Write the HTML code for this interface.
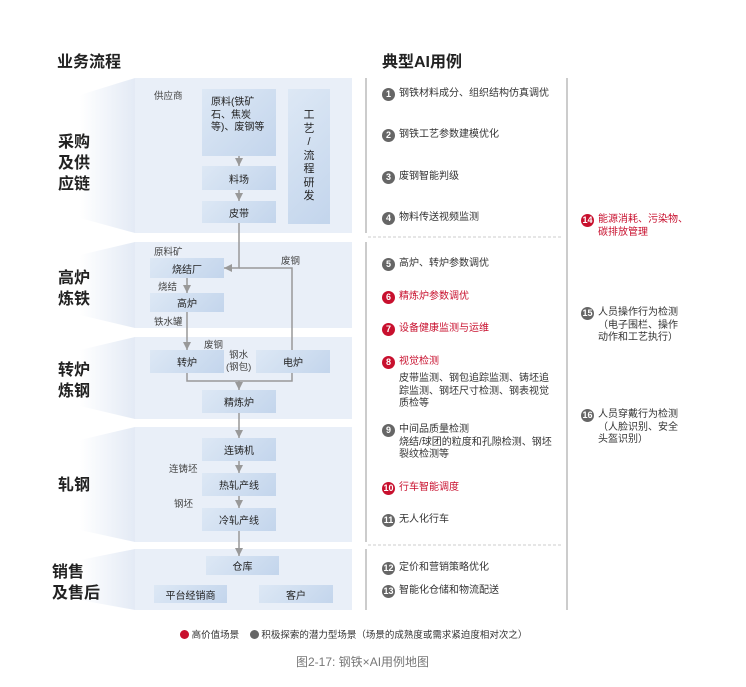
<!DOCTYPE html>
<html><head><meta charset="utf-8"><style>
body{margin:0;width:746px;height:687px;background:#fff;position:relative;font-family:"Liberation Sans","Noto Sans CJK SC",sans-serif;overflow:hidden}
.a{position:absolute}
.box{position:absolute;background:linear-gradient(135deg,#dde8f5,#c3d5ec);color:#222;font-size:10px;display:flex;align-items:center;justify-content:center;text-align:center}
.lab{position:absolute;font-size:16px;font-weight:bold;color:#222;line-height:21px}
.sm{position:absolute;font-size:9.5px;color:#444}
.it{position:absolute;font-size:10px;color:#333;line-height:12.5px}
.it b{position:absolute;left:-17px;top:0;width:13px;height:13px;border-radius:50%;background:#666;color:#fff;font-size:9px;font-weight:bold;text-align:center;line-height:13px}
.r{color:#c8102e}.r b{background:#c8102e}
</style></head><body>
<svg class="a" style="left:0;top:0" width="746" height="687">
<defs><linearGradient id="g" x1="0" x2="1"><stop offset="0" stop-color="#fff"/><stop offset="1" stop-color="#e3eaf5"/></linearGradient>
<marker id="ar" markerUnits="userSpaceOnUse" markerWidth="9" markerHeight="9" refX="8" refY="4.5" orient="auto"><path d="M0,0.5L8,4.5L0,8.5z" fill="#999"/></marker></defs>
<g fill="url(#g)">
<polygon points="80,95 135,78 135,233 80,218"/>
<polygon points="80,255 135,242 135,328 80,315"/>
<polygon points="80,350 135,337 135,419 80,406"/>
<polygon points="80,440 135,427 135,542 80,530"/>
<polygon points="80,560 135,549 135,610 80,600"/>
</g>
<g fill="#e9eff8">
<rect x="135" y="78" width="217" height="155"/>
<rect x="135" y="242" width="217" height="86"/>
<rect x="135" y="337" width="217" height="82"/>
<rect x="135" y="427" width="217" height="115"/>
<rect x="135" y="549" width="217" height="61"/>
</g>
<g stroke="#999" stroke-width="1.5" fill="none">
<line x1="239" y1="156" x2="239" y2="166" marker-end="url(#ar)"/>
<line x1="239" y1="190" x2="239" y2="201" marker-end="url(#ar)"/>
<polyline points="239,223 239,268 224,268" marker-end="url(#ar)"/>
<polyline points="292,350 292,268 239,268"/>
<line x1="187" y1="278" x2="187" y2="293" marker-end="url(#ar)"/>
<line x1="187" y1="312" x2="187" y2="350" marker-end="url(#ar)"/>
<polyline points="187,373 187,381 292,381 292,373"/>
<line x1="239" y1="381" x2="239" y2="390" marker-end="url(#ar)"/>
<line x1="239" y1="413" x2="239" y2="438" marker-end="url(#ar)"/>
<line x1="239" y1="461" x2="239" y2="473" marker-end="url(#ar)"/>
<line x1="239" y1="496" x2="239" y2="508" marker-end="url(#ar)"/>
<line x1="239" y1="531" x2="239" y2="556" marker-end="url(#ar)"/>
</g>
<g stroke="#bbb" stroke-width="1.5">
<line x1="366" y1="78" x2="366" y2="233"/><line x1="366" y1="242" x2="366" y2="542"/><line x1="366" y1="549" x2="366" y2="610"/>
<line x1="567" y1="78" x2="567" y2="610"/>
</g>
<g stroke="#ccc" stroke-width="1" stroke-dasharray="3,2">
<line x1="368" y1="237" x2="562" y2="237"/><line x1="368" y1="545" x2="562" y2="545"/>
</g>
</svg>
<div class="a" style="left:57px;top:48px;font-size:16px;font-weight:bold;color:#222">业务流程</div>
<div class="a" style="left:382px;top:48px;font-size:16px;font-weight:bold;color:#222">典型AI用例</div>
<div class="lab" style="left:58px;top:132px">采购<br>及供<br>应链</div>
<div class="lab" style="left:58px;top:268px">高炉<br>炼铁</div>
<div class="lab" style="left:58px;top:360px">转炉<br>炼钢</div>
<div class="lab" style="left:58px;top:475px">轧钢</div>
<div class="lab" style="left:52px;top:562px">销售<br>及售后</div>
<div class="sm" style="left:154px;top:88px">供应商</div>
<div class="box" style="left:202px;top:89px;width:74px;height:67px;align-items:flex-start;justify-content:flex-start;text-align:left;padding:8px 0 0 9px;box-sizing:border-box;line-height:12.5px">原料(铁矿<br>石、焦炭<br>等)、废钢等</div>
<div class="box" style="left:288px;top:89px;width:42px;height:135px;font-size:11px;line-height:13.5px">工<br>艺<br>/<br>流<br>程<br>研<br>发</div>
<div class="box" style="left:202px;top:166px;width:74px;height:24px">料场</div>
<div class="box" style="left:202px;top:201px;width:74px;height:22px">皮带</div>
<div class="sm" style="left:154px;top:244px">原料矿</div>
<div class="sm" style="left:281px;top:253px">废钢</div>
<div class="box" style="left:150px;top:258px;width:74px;height:20px">烧结厂</div>
<div class="sm" style="left:158px;top:279px">烧结</div>
<div class="box" style="left:150px;top:293px;width:74px;height:19px">高炉</div>
<div class="sm" style="left:154px;top:314px">铁水罐</div>
<div class="sm" style="left:204px;top:337px">废钢</div>
<div class="box" style="left:150px;top:350px;width:74px;height:23px">转炉</div>
<div class="sm" style="left:226px;top:350px;text-align:center;line-height:12px">钢水<br>(钢包)</div>
<div class="box" style="left:256px;top:350px;width:74px;height:23px">电炉</div>
<div class="box" style="left:202px;top:390px;width:74px;height:23px">精炼炉</div>
<div class="box" style="left:202px;top:438px;width:74px;height:23px">连铸机</div>
<div class="sm" style="left:169px;top:461px">连铸坯</div>
<div class="box" style="left:202px;top:473px;width:74px;height:23px">热轧产线</div>
<div class="sm" style="left:174px;top:496px">钢坯</div>
<div class="box" style="left:202px;top:508px;width:74px;height:23px">冷轧产线</div>
<div class="box" style="left:206px;top:556px;width:73px;height:19px">仓库</div>
<div class="box" style="left:154px;top:585px;width:73px;height:18px">平台经销商</div>
<div class="box" style="left:259px;top:585px;width:74px;height:18px">客户</div>

<div class="it" style="left:399px;top:88px"><b>1</b>钢铁材料成分、组织结构仿真调优</div>
<div class="it" style="left:399px;top:129px"><b>2</b>钢铁工艺参数建模优化</div>
<div class="it" style="left:399px;top:171px"><b>3</b>废钢智能判级</div>
<div class="it" style="left:399px;top:212px"><b>4</b>物料传送视频监测</div>
<div class="it" style="left:399px;top:258px"><b>5</b>高炉、转炉参数调优</div>
<div class="it r" style="left:399px;top:291px"><b>6</b>精炼炉参数调优</div>
<div class="it r" style="left:399px;top:323px"><b>7</b>设备健康监测与运维</div>
<div class="it r" style="left:399px;top:356px"><b>8</b>视觉检测</div>
<div class="it" style="left:399px;top:373px">皮带监测、钢包追踪监测、铸坯追<br>踪监测、钢坯尺寸检测、钢表视觉<br>质检等</div>
<div class="it" style="left:399px;top:424px"><b>9</b>中间品质量检测<br>烧结/球团的粒度和孔隙检测、钢坯<br>裂纹检测等</div>
<div class="it r" style="left:399px;top:482px"><b>10</b>行车智能调度</div>
<div class="it" style="left:399px;top:514px"><b>11</b>无人化行车</div>
<div class="it" style="left:399px;top:562px"><b>12</b>定价和营销策略优化</div>
<div class="it" style="left:399px;top:585px"><b>13</b>智能化仓储和物流配送</div>
<div class="it r" style="left:598px;top:214px"><b>14</b>能源消耗、污染物、<br>碳排放管理</div>
<div class="it" style="left:598px;top:307px"><b>15</b>人员操作行为检测<br>（电子围栏、操作<br>动作和工艺执行）</div>
<div class="it" style="left:598px;top:409px"><b>16</b>人员穿戴行为检测<br>（人脸识别、安全<br>头盔识别）</div>

<div class="a" style="left:180px;top:627px;font-size:9.5px;color:#333"><span style="display:inline-block;width:9px;height:9px;border-radius:50%;background:#c8102e;vertical-align:-1px"></span> 高价值场景 &nbsp;&nbsp;&nbsp;<span style="display:inline-block;width:9px;height:9px;border-radius:50%;background:#666;vertical-align:-1px"></span> 积极探索的潜力型场景（场景的成熟度或需求紧迫度相对次之）</div>
<div class="a" style="left:296px;top:653px;font-size:12px;color:#777">图2-17: 钢铁×AI用例地图</div>
</body></html>
